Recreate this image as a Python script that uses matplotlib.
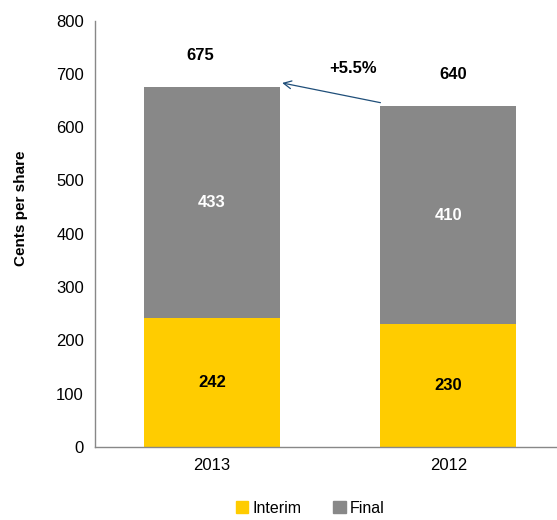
import numpy as np
import matplotlib.pyplot as plt
from matplotlib.patches import Patch

plt.rcParams['font.family'] = ['Liberation Sans', 'DejaVu Sans']

years = ['2013', '2012']
interim = [242, 230]
final = [433, 410]
totals = [675, 640]
growth_label = '+5.5%'

yellow = '#FFCC00'
grey = '#888888'

fig = plt.figure(figsize=(5.57, 5.2), dpi=100)
ax = fig.add_axes([0.1706, 0.1404, 0.84, 0.82])

x = np.arange(len(years)) + np.array([0, 0.01])
w = 0.58
ax.bar(x, interim, w, color=yellow, label='Interim')
ax.bar(x, final, w, bottom=interim, color=grey, label='Final')

for i in range(len(years)):
    ax.text(x[i], interim[i] / 2, str(interim[i]), ha='center', va='center',
            fontsize=12, fontweight='bold', color='black')
    ax.text(x[i], interim[i] + final[i] / 2, str(final[i]), ha='center', va='center',
            fontsize=12, fontweight='bold', color='white')
ax.text(x[0] - 0.05, totals[0] + 60, str(totals[0]), ha='center', va='center',
        fontsize=12, fontweight='bold')
ax.text(x[1] + 0.02, totals[1] + 58, str(totals[1]), ha='center', va='center',
        fontsize=12, fontweight='bold')

ax.annotate('', xy=(x[0] + w / 2 + 0.01, totals[0] + 8),
            xytext=(x[1] - w / 2, totals[1] + 6),
            arrowprops=dict(arrowstyle='->', color='#1F4E79', lw=0.9,
                            shrinkA=0, shrinkB=0, mutation_scale=14))
ax.text((x[0] + x[1]) / 2 + 0.1, 710, growth_label, ha='center', va='center',
        fontsize=12, fontweight='bold')

ax.set_xlim(-0.5, 1.5)
ax.set_ylim(0, 800)
ax.set_yticks(range(0, 801, 100))
ax.set_xticks(x)
ax.set_xticklabels(years)
ax.tick_params(axis='both', length=0, labelsize=12, pad=8)
ax.set_ylabel('Cents per share', fontsize=11, fontweight='bold')
ax.yaxis.set_label_coords(-0.143, 0.56)

for s in ['top', 'right']:
    ax.spines[s].set_visible(False)
for s in ['left', 'bottom']:
    ax.spines[s].set_color('#888888')
    ax.spines[s].set_linewidth(1)

handles = [Patch(color=yellow, label='Interim'), Patch(color=grey, label='Final')]
fig.legend(handles=handles, loc='center', bbox_to_anchor=(0.557, 0.023), ncol=2,
           frameon=False, fontsize=11.5, handlelength=0.8, handleheight=0.7,
           handletextpad=0.25, columnspacing=2.0)

fig.savefig('out.png', dpi=100)
